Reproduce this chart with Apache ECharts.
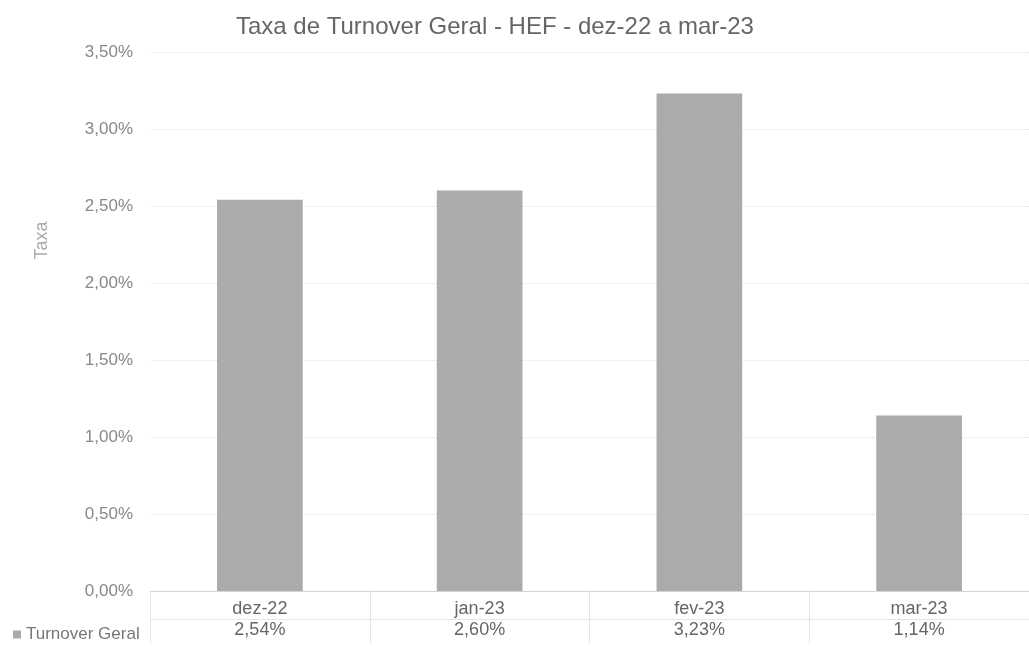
<!DOCTYPE html>
<html>
<head>
<meta charset="utf-8">
<script src="https://cdn.jsdelivr.net/npm/echarts@6/dist/echarts.min.js"></script>
<style>html,body{margin:0;padding:0;background:#fff}#c{width:1029px;height:646px}</style>
</head>
<body>
<div id="c"></div>
<script>
const categories = ['dez-22', 'jan-23', 'fev-23', 'mar-23'];
const turnoverGeral = [2.54, 2.60, 3.23, 1.14];
const valueLabels = ['2,54%', '2,60%', '3,23%', '1,14%'];
const seriesName = 'Turnover Geral';
const titleText = 'Taxa de Turnover Geral - HEF - dez-22 a mar-23';

const font = 'Liberation Sans, Arial, sans-serif';
const chart = echarts.init(document.getElementById('c'));
chart.setOption({
  animation: false,
  backgroundColor: '#fff',
  title: {
    text: titleText, left: 231, top: 10,
    textStyle: { fontFamily: font, fontSize: 24, fontWeight: 'normal', color: '#666' }
  },
  legend: {
    data: [seriesName], left: 8, top: 621, icon: 'rect', itemWidth: 8, itemHeight: 8, itemGap: 4,
    textStyle: { fontFamily: font, fontSize: 17, color: '#777', padding: [0, 0, 0, 0] }
  },
  grid: { left: 150, right: -6, top: 52, bottom: 55 },
  xAxis: [{
    type: 'category', data: categories, position: 'bottom',
    axisLine: { show: true, lineStyle: { color: '#d4d4d4' } },
    axisTick: { show: true, length: 52, lineStyle: { color: '#e4e4e4' } },
    axisLabel: { margin: 9, fontFamily: font, fontSize: 18, color: '#666' }
  }, {
    type: 'category', data: valueLabels, position: 'bottom', offset: 28,
    axisLine: { show: true, lineStyle: { color: '#e6e6e6' } },
    axisTick: { show: false },
    axisLabel: { margin: 2, fontFamily: font, fontSize: 18, color: '#666' }
  }],
  yAxis: {
    type: 'value', min: 0, max: 3.5, interval: 0.5,
    name: 'Taxa', nameLocation: 'middle', nameGap: 99,
    nameTextStyle: { fontFamily: font, fontSize: 18, color: '#aaa', padding: [0, 0, 0, 162] },
    axisLine: { show: false }, axisTick: { show: false },
    axisLabel: {
      margin: 17, fontFamily: font, fontSize: 17, color: '#888',
      formatter: v => v.toFixed(2).replace('.', ',') + '%'
    },
    splitLine: { lineStyle: { color: '#e2e2e2', type: 'dotted' } }
  },
  series: [{
    name: seriesName, type: 'bar', data: turnoverGeral, barWidth: '39%',
    itemStyle: { color: '#ababab' }
  }]
});
</script>
</body>
</html>
